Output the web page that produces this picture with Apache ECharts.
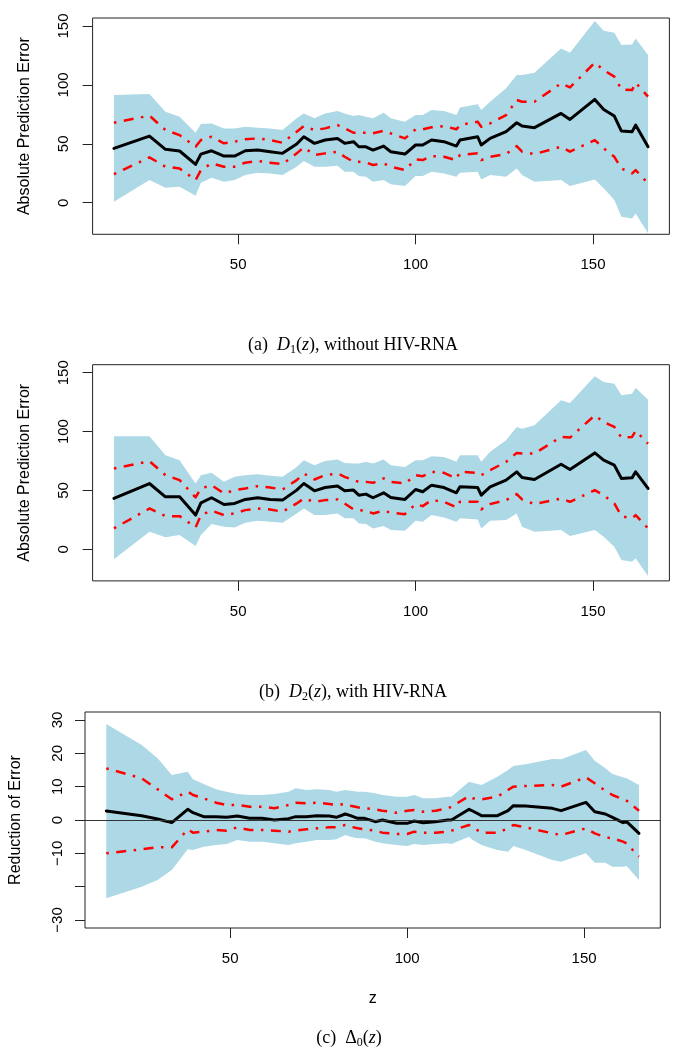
<!DOCTYPE html>
<html><head><meta charset="utf-8">
<script src="https://cdn.jsdelivr.net/npm/echarts@6/dist/echarts.min.js"></script>
<style>html,body{margin:0;padding:0;background:#fff}#c{width:684px;height:1050px}</style>
</head><body><div id="c"></div>
<script>
// shared z grid
const z = [15,25,29.5,33.5,38,39.5,42.5,46,49,52,55.5,59,62.5,66.5,68.5,71.5,74.5,78,80,82.5,84,86,88,91,93,97,100,102,104.5,108,111.5,112.5,117.5,118.5,121,125.5,128.5,130,133.5,141,143.5,150.5,153,156,158,161,162,165.5];

// (a) D1(z)
const d1Mean = [46.1,56.6,45.3,43.9,32.5,41.3,44.1,39.6,39.6,44.1,44.7,43.3,41.9,49.8,56,50.4,53.2,54.6,50.4,51.8,47.5,47.5,44.7,48.1,43.3,41.3,49,49,53.2,51.8,48.1,53.2,56,49,54.6,60.3,67.9,65.1,63.7,75.8,70.7,87.7,79.2,73.6,60.8,60.3,65.9,47.5];
const d1BandHi = [91.4,92.2,77.2,73,59.4,66.8,67.3,63.1,63.1,64.5,63.7,63.1,61.7,71.6,75.8,71.6,75.8,77.8,75.8,73.6,74.4,73,71.6,76.4,71.6,68.8,74.4,74.4,78.7,77.8,74.4,80.9,83.5,78.7,85.7,97.1,108.4,108.4,110.4,131,127.3,154.2,146,144.3,133.8,134.4,139.5,125.4];
const d1BandLo = [0.8,19.2,12.7,13.6,5.9,17,21.2,17.8,19.2,23.5,25.5,24.9,23.5,30.6,35.4,30.6,30.6,31.4,26.3,26.3,22.6,22.1,17.8,19.2,15.6,14.1,22.6,22.6,26.3,24.9,22.1,25.5,26.3,19.8,23.5,22.1,29.1,23.5,17.8,19.2,14.1,19.8,12.2,2.3,-11.9,-13.3,-9.1,-26.0];
const d1CiHi = [67.9,73.9,61.7,57.4,47.5,53.2,56,50.4,51.8,53.8,54.6,53.2,50.9,60.3,65.1,61.7,63.1,65.9,63.1,59.4,59.4,59.4,58.9,61.1,58.9,54.6,62.3,62.3,64,65.1,62.3,65.9,68.8,64.5,67.3,74.4,87.2,85.7,85.7,101.3,97.9,118.8,112.6,107,96.2,95.6,101.9,90];
const d1CiLo = [24.3,38.5,30.6,29.1,19.2,27.7,33.4,30.6,30.6,34,35.4,34,32.8,41.9,47,40.5,41.9,43.3,39,34.8,34.8,34.2,32,33.4,30.6,27.7,36.8,36.2,39.6,39,36.2,40.5,41.9,36.2,39,41.3,48.1,43.3,41.3,47.5,43.3,53.2,46.1,39,29.1,24.9,27.7,16.4];

// (b) D2(z)
const d2Mean = [43.2,55.9,44.6,44.6,29.1,39.5,43.8,38.1,39,42.4,43.8,42.4,41.8,50.3,55.9,49.7,52.5,53.7,49.7,50.3,46,46.9,43.8,48,44.1,42.4,50.8,48.9,54.5,52.5,48,53.1,52.5,46,53.1,58.8,65.8,61,59.3,72.3,67.8,81.9,75.7,71.5,60.2,60.7,65.8,51.7];
const d2BandHi = [96,96,79.9,75.7,55.9,63,65,57.3,61.6,63,63.8,62.4,61.6,70,75.7,71.5,75.1,76.3,73.4,72.9,72.9,74.3,72.9,76.3,71.5,70,75.7,75.7,79.1,78.5,74.3,79.9,79.9,74.3,82.8,92.7,104,102.5,105.4,126.6,124.3,146.9,142.1,140.7,130.8,132.2,137.3,127.1];
const d2BandLo = [-8.5,15,10.2,12.1,2.8,12.1,21.5,19.2,18.6,22.6,24.3,23.4,22.6,30.5,34.7,29.1,29.1,30.5,26.3,26.3,22,21.5,17.8,19.8,16.4,15.8,24.3,23.4,29.1,27.1,23.4,26.3,25.4,17.8,24.3,24.9,30.5,19.2,15,16.4,11.3,16.4,10.7,2.3,-9,-10.5,-7.6,-22.6];
const d2CiHi = [68.6,74.9,63,58.8,44.1,51.7,54.5,47.5,50.3,51.7,53.7,52.5,50.8,58.8,64.4,59.3,63,64.4,61.6,58.8,57.3,57.3,56.5,60.2,57.3,55.9,63,62.1,65.8,65,60.2,65.8,65,63,67.2,74.3,81.9,81.4,81.4,95.5,94.9,113.8,108.2,104,94.9,95.5,100.6,89.8];
const d2CiLo = [17.8,34.7,28.2,28.2,18.6,29.1,32.8,29.1,30.5,33.3,34.7,33.9,31.9,39,43.2,40.4,41.8,42.4,39,33.9,33.3,32.8,30.5,32.8,31.1,29.9,38.4,36.7,41.8,40.4,35.6,40.4,40.4,33.9,38.4,41.8,46.9,42.4,38.4,43.2,40.4,50.3,46,39,28.2,26.3,29.1,17.8];

// (c) Delta0(z)
const d0Mean = [2.7,1.3,0.3,-0.8,3.2,2.2,1.0,1.0,0.8,1.2,0.5,0.5,0,0.4,1.0,1.0,1.3,1.2,0.8,1.8,1.3,0.5,0.5,-0.5,0,-1,-1,-0.3,-0.8,-0.5,0,0,3.2,2.7,1.3,1.3,2.8,4.3,4.2,3.5,2.8,5.3,2.5,1.8,0.8,-0.8,-0.5,-4.0];
const d0BandHi = [28.8,22.5,18.5,13.5,14.5,12.2,10.8,9.2,8.5,7.8,7.5,7.5,7.8,8.5,9.5,9.0,9.2,9.0,8.5,9.0,8.8,8.5,8.5,8.0,7.5,7.0,7.0,7.5,6.5,6.5,7.0,7.0,11.5,11.2,10.5,13,15,16.2,16.7,18.3,18.2,21,17.8,15.5,13.8,12.8,12.5,10.5];
const d0BandLo = [-23.5,-20,-18,-15,-8.8,-9,-8,-7.5,-7.2,-6,-6.5,-6.5,-7,-7.5,-7,-6.5,-6,-6,-5.8,-4.5,-5,-5.5,-5.5,-6.5,-7,-7.5,-7.8,-7.2,-7.5,-7.2,-7,-7.2,-5,-6,-7.5,-9,-9.5,-7.8,-9,-12,-12.5,-10,-12.8,-12.8,-14,-14,-13.8,-18];
const d0CiHi = [15.5,12.5,9.2,6.2,8.5,7.5,6.5,5.2,4.5,4.5,4.0,4.0,3.5,4.5,5.2,5.0,5.2,4.8,4.5,4.8,4.3,3.8,3.5,3.2,2.8,2.2,2.8,3.0,2.5,2.8,3.5,4.0,7.2,6.5,6.2,7.0,9.0,10,10.2,10.5,10,12.8,11,8.8,7.5,6.2,5.8,2.8];
const d0CiLo = [-10,-8.8,-8.2,-8.2,-2.8,-3.8,-3.5,-3,-3.2,-2.2,-3,-3,-3.2,-3.5,-3.2,-2.8,-2.5,-2.2,-2.2,-1.5,-2,-2.5,-2.8,-3.2,-3.8,-4.2,-4.2,-3.5,-3.8,-3.8,-3.5,-3.2,-1.5,-2.2,-3.8,-3.8,-2.5,-1.5,-2.2,-4,-4.5,-2.5,-4,-5.2,-5.5,-6.5,-7,-11];

// ticks / labels / texts
const xTicks = [50,100,150];
const yTicksAbs = [0,50,100,150];
const yTicksRed = [-30,-20,-10,0,10,20,30];
const yLabelsRed = [-30,-10,0,10,20,30];
const yTitles = ['Absolute Prediction Error','Absolute Prediction Error','Reduction of Error'];
const xTitle = 'z';

const panels = [
  {mean:d1Mean, lo:d1BandLo, hi:d1BandHi, dn:d1CiLo, up:d1CiHi, yt:yTicksAbs, yl:yTicksAbs},
  {mean:d2Mean, lo:d2BandLo, hi:d2BandHi, dn:d2CiLo, up:d2CiHi, yt:yTicksAbs, yl:yTicksAbs},
  {mean:d0Mean, lo:d0BandLo, hi:d0BandHi, dn:d0CiLo, up:d0CiHi, yt:yTicksRed, yl:yLabelsRed}
];
// layout (positions only)
const layout = [
  {left:92.6, top:18.0, width:576.8, height:216.3, ymin:-26.8, ymax:156.8, xmin:8.98, xmax:171.52, lm:21, ng:60},
  {left:92.6, top:364.7, width:576.8, height:216.2, ymin:-26.8, ymax:156.8, xmin:8.98, xmax:171.52, lm:21, ng:60},
  {left:85.0, top:712.0, width:575.3, height:216.0, ymin:-32.4, ymax:32.4, xmin:8.98, xmax:171.52, lm:20, ng:61}
];

const SANS = "'Liberation Sans', Arial, Helvetica, sans-serif";
const SERIF = "'Liberation Serif', 'DejaVu Serif', serif";
const fmt = v => String(v).replace('-', '\u2212');

const grids = [], xAxes = [], yAxes = [], series = [];
layout.forEach((L, i) => {
  grids.push({left:L.left, top:L.top, width:L.width, height:L.height, show:true, borderColor:'#222', borderWidth:1, backgroundColor:'transparent'});
  xAxes.push({
    type:'value', gridIndex:i, min:L.xmin, max:L.xmax, position:'bottom',
    axisLine:{show:false, onZero:false}, splitLine:{show:false},
    axisTick:{show:true, length:10, customValues:xTicks, lineStyle:{color:'#222', width:1}},
    axisLabel:{customValues:xTicks, margin:23, fontSize:15, color:'#000', fontFamily:SANS},
    name: i === 2 ? xTitle : '', nameLocation:'middle', nameGap:63,
    nameTextStyle:{fontSize:16, color:'#000', fontFamily:SANS}
  });
  yAxes.push({
    type:'value', gridIndex:i, min:L.ymin, max:L.ymax, position:'left',
    axisLine:{show:false, onZero:false}, splitLine:{show:false},
    axisTick:{show:true, length:10, customValues:panels[i].yt, lineStyle:{color:'#222', width:1}},
    axisLabel:{customValues:panels[i].yl, rotate:90, margin:L.lm, fontSize:15, color:'#000', fontFamily:SANS, formatter:fmt},
    name:yTitles[i], nameLocation:'middle', nameGap:L.ng,
    nameTextStyle:{fontSize:16, color:'#000', fontFamily:SANS}
  });
  const P = panels[i];
  series.push({
    type:'custom', xAxisIndex:i, yAxisIndex:i, silent:true, clip:true, z:1,
    data: z.map((v, k) => [v, P.lo[k], P.hi[k]]),
    encode:{x:0, y:[1,2]},
    renderItem: function (params, api) {
      if (params.dataIndex !== 0) return null;
      const pts = [];
      for (let k = 0; k < z.length; k++) pts.push(api.coord([z[k], P.hi[k]]));
      for (let k = z.length - 1; k >= 0; k--) pts.push(api.coord([z[k], P.lo[k]]));
      return {type:'polygon', shape:{points:pts}, style:{fill:'#ADD8E6', stroke:null}};
    }
  });
  const dash = {color:'#FF0000', width:2.5, type:[2.5,7.5,10,7.5], cap:'butt', join:'round'};
  const up = {
    type:'line', xAxisIndex:i, yAxisIndex:i, silent:true, symbol:'none', showSymbol:false, z:2,
    data: z.map((v, k) => [v, P.up[k]]), lineStyle:dash
  };
  if (i === 2) {
    up.markLine = {silent:true, symbol:'none', label:{show:false}, lineStyle:{color:'#333', width:1, type:'solid'}, data:[{yAxis:0}]};
  }
  series.push(up);
  series.push({
    type:'line', xAxisIndex:i, yAxisIndex:i, silent:true, symbol:'none', showSymbol:false, z:2,
    data: z.map((v, k) => [v, P.dn[k]]), lineStyle:dash
  });
  series.push({
    type:'line', xAxisIndex:i, yAxisIndex:i, silent:true, symbol:'none', showSymbol:false, z:3,
    data: z.map((v, k) => [v, P.mean[k]]), lineStyle:{color:'#000', width:3, join:'round', cap:'round'}
  });
});

const capRich = {
  n:{fontFamily:SERIF, fontSize:18, color:'#111', lineHeight:22, verticalAlign:'middle'},
  i:{fontFamily:SERIF, fontSize:18, fontStyle:'italic', color:'#111', lineHeight:22, verticalAlign:'middle'},
  s:{fontFamily:SERIF, fontSize:12, color:'#111', lineHeight:22, verticalAlign:'bottom'}
};
const captions = [
  {text:'{n|(a)  }{i|D}{s|1}{n|(}{i|z}{n|), without HIV-RNA}', x:353, y:345},
  {text:'{n|(b)  }{i|D}{s|2}{n|(}{i|z}{n|), with HIV-RNA}', x:353, y:692},
  {text:'{n|(c)  \u0394}{s|0}{n|(}{i|z}{n|)}', x:349, y:1038}
];

const chart = echarts.init(document.getElementById('c'), null, {renderer:'canvas'});
chart.setOption({
  animation:false,
  backgroundColor:'#fff',
  grid:grids, xAxis:xAxes, yAxis:yAxes, series:series,
  graphic: captions.map(c => ({
    type:'text', x:c.x, y:c.y, silent:true,
    style:{text:c.text, rich:capRich, align:'center', verticalAlign:'middle'}
  }))
});
</script>
</body></html>
